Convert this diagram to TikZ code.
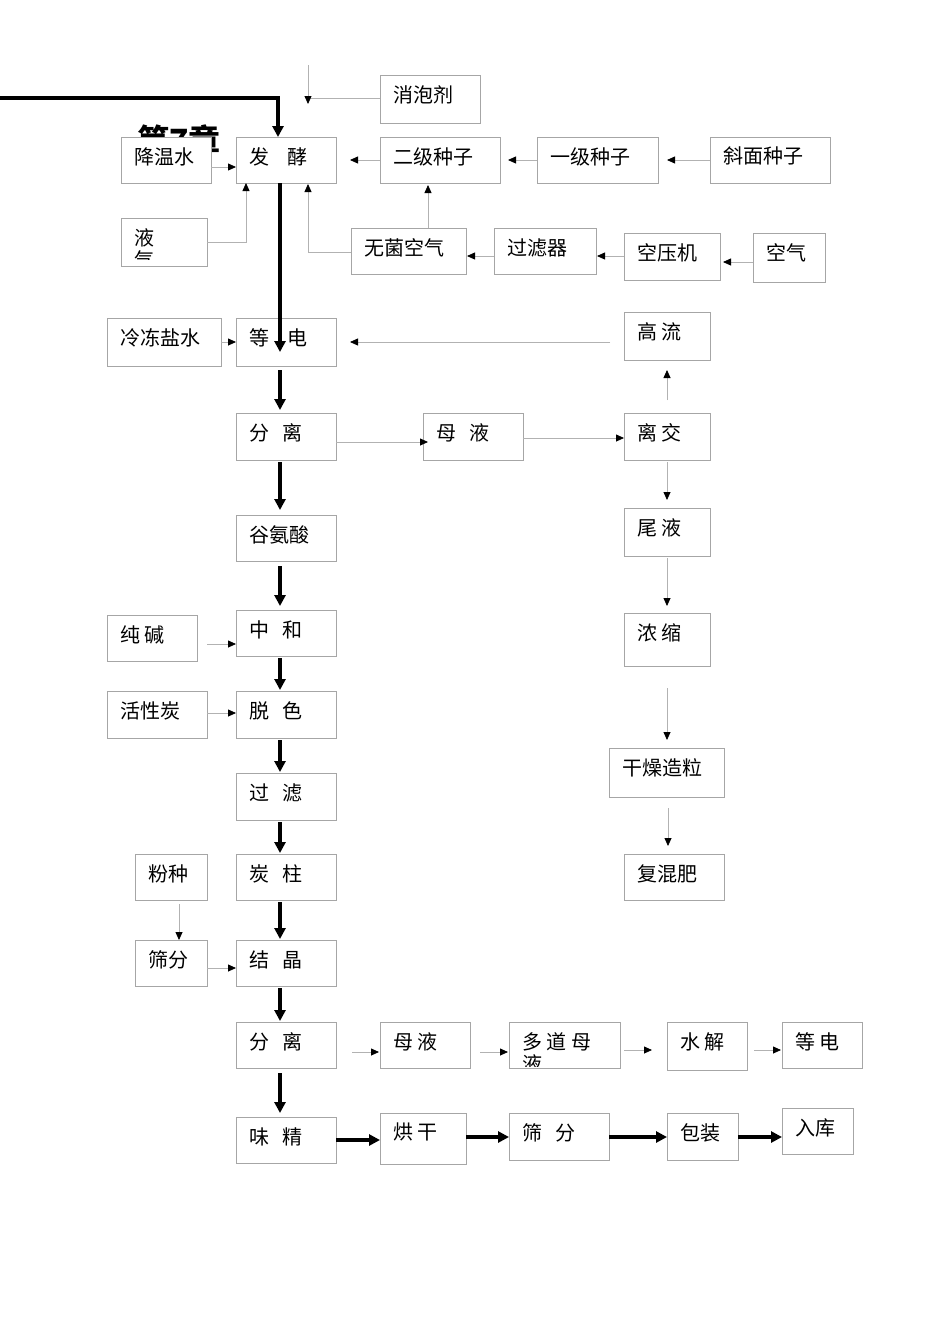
\documentclass[tikz,border=0pt]{standalone}
\usepackage{fontspec}
\setmainfont{Noto Sans CJK SC}
\usetikzlibrary{arrows.meta}
\begin{document}
\begin{tikzpicture}[x=1pt,y=-1pt,
 thin/.style={draw=black!30,line width=0.8pt,-{Triangle[black,length=8pt,width=7pt]}},
 thinl/.style={draw=black!30,line width=0.8pt},
 thick/.style={draw=black,line width=3.5pt,-{Triangle[length=11pt,width=11pt]}},
 bx/.style={draw=black!35,fill=white,line width=0.7pt},
 tx/.style={anchor=north west,inner sep=0pt,font=\fontsize{20}{22}\selectfont}]
\useasboundingbox (0,0) rectangle (950,1344);
\fill[white] (0,0) rectangle (950,1344);
\node[anchor=west,inner sep=0pt,font=\bfseries\fontsize{32}{32}\selectfont] (title) at (137,140) {第7章};
\newcommand\bxx[6]{\draw[bx] (#2,#3) rectangle (#4,#5); \coordinate (#1) at ({(#2+#4)/2},{(#3+#5)/2}); \node[tx] (#1t) at (#2+13,#3+10) {#6};}
\bxx{xp}{380}{75}{480}{123}{消泡剂}
\bxx{jw}{121}{137}{211}{183}{降温水}
\bxx{fj}{236}{137}{336}{183}{发\ \ \ \ 酵}
\bxx{ej}{380}{137}{500}{183}{二级种子}
\bxx{yj}{537}{137}{658}{183}{一级种子}
\bxx{xm}{710}{137}{830}{183}{斜面种子}
\draw[bx] (121,218) rectangle (207,266); \coordinate (yq) at (164,242);
\begin{scope}\clip (121,218) rectangle (207,259);
\node[tx,align=left] (yqt) at (134,228) {液\\气};\end{scope}
\bxx{wj}{351}{228}{466}{274}{无菌空气}
\bxx{gl}{494}{228}{596}{274}{过滤器}
\bxx{ky}{624}{233}{720}{280}{空压机}
\bxx{kq}{753}{233}{825}{282}{空气}
\bxx{ld}{107}{318}{221}{366}{冷冻盐水}
\bxx{dd}{236}{318}{336}{366}{等\ \ \ \ 电}
\bxx{gll}{624}{312}{710}{360}{高\ 流}
\bxx{fl}{236}{413}{336}{460}{分\ \ \ 离}
\bxx{my}{423}{413}{523}{460}{母\ \ \ 液}
\bxx{lj}{624}{413}{710}{460}{离\ 交}
\bxx{gas}{236}{515}{336}{561}{谷氨酸}
\bxx{wy}{624}{508}{710}{556}{尾\ 液}
\bxx{zh}{236}{610}{336}{656}{中\ \ \ 和}
\bxx{cj}{107}{615}{197}{661}{纯\ 碱}
\bxx{ns}{624}{613}{710}{666}{浓\ 缩}
\bxx{hxt}{107}{691}{207}{738}{活性炭}
\bxx{ts}{236}{691}{336}{738}{脱\ \ \ 色}
\bxx{gz}{609}{748}{724}{797}{干燥造粒}
\bxx{glv}{236}{773}{336}{820}{过\ \ \ 滤}
\bxx{tz}{236}{854}{336}{900}{炭\ \ \ 柱}
\bxx{fz}{135}{854}{207}{900}{粉种}
\bxx{fhf}{624}{854}{724}{900}{复混肥}
\bxx{sf}{135}{940}{207}{986}{筛分}
\bxx{jj}{236}{940}{336}{986}{结\ \ \ 晶}
\bxx{fl2}{236}{1022}{336}{1068}{分\ \ \ 离}
\bxx{my2}{380}{1022}{470}{1068}{母\ 液}
\draw[bx] (509,1022) rectangle (620,1068); \coordinate (dd2) at (564,1045);
\begin{scope}\clip (509,1022) rectangle (620,1066);
\node[tx,align=left] (ddt) at (522,1032) {多\ 道\ 母\\液};\end{scope}
\bxx{sj}{667}{1022}{747}{1070}{水\ 解}
\bxx{dd3}{782}{1022}{862}{1068}{等\ 电}
\bxx{wjg}{236}{1117}{336}{1163}{味\ \ \ 精}
\bxx{hg}{380}{1113}{466}{1164}{烘\ 干}
\bxx{sf2}{509}{1113}{609}{1160}{筛\ \ \ 分}
\bxx{bz}{667}{1113}{738}{1160}{包装}
\bxx{rk}{782}{1108}{853}{1154}{入库}
% thick
\coordinate (s0) at (0,98);
\draw[thick] (s0) -- (278,98) -- (278,137);
\draw[thick] (280,183) -- (280,352);
\draw[thick] (280,370) -- (280,410);
\draw[thick] (280,462) -- (280,510);
\draw[thick] (280,566) -- (280,606);
\draw[thick] (280,658) -- (280,690);
\draw[thick] (280,740) -- (280,772);
\draw[thick] (280,822) -- (280,853);
\draw[thick] (280,902) -- (280,939);
\draw[thick] (280,988) -- (280,1021);
\draw[thick] (280,1073) -- (280,1113);
\draw[thick] (336,1140) -- (380,1140);
\draw[thick] (466,1137) -- (509,1137);
\draw[thick] (609,1137) -- (667,1137);
\draw[thick] (738,1137) -- (782,1137);
% thin
\draw[thinl] (380,98) -- (308,98);
\draw[thin] (308,65) -- (308,104);
\draw[thin] (211,167) -- (236,167);
\draw[thin] (380,160) -- (350,160);
\draw[thin] (537,160) -- (508,160);
\draw[thin] (710,160) -- (667,160);
\draw[thin] (207,242) -- (246,242) -- (246,183);
\draw[thin] (351,252) -- (308,252) -- (308,184);
\draw[thin] (428,228) -- (428,185);
\draw[thin] (494,256) -- (467,256);
\draw[thin] (624,256) -- (597,256);
\draw[thin] (753,262) -- (723,262);
\draw[thin] (221,342) -- (236,342);
\draw[thin] (610,342) -- (350,342);
\draw[thin] (667,400) -- (667,370);
\draw[thin] (336,442) -- (428,442);
\draw[thin] (523,438) -- (624,438);
\draw[thin] (667,462) -- (667,500);
\draw[thin] (667,558) -- (667,606);
\draw[thin] (667,688) -- (667,740);
\draw[thin] (668,808) -- (668,846);
\draw[thin] (207,644) -- (236,644);
\draw[thin] (207,713) -- (236,713);
\draw[thin] (179,904) -- (179,940);
\draw[thin] (207,968) -- (236,968);
\draw[thin] (352,1052) -- (379,1052);
\draw[thin] (480,1052) -- (508,1052);
\draw[thin] (624,1050) -- (652,1050);
\draw[thin] (754,1050) -- (781,1050);
\end{tikzpicture}
\end{document}
